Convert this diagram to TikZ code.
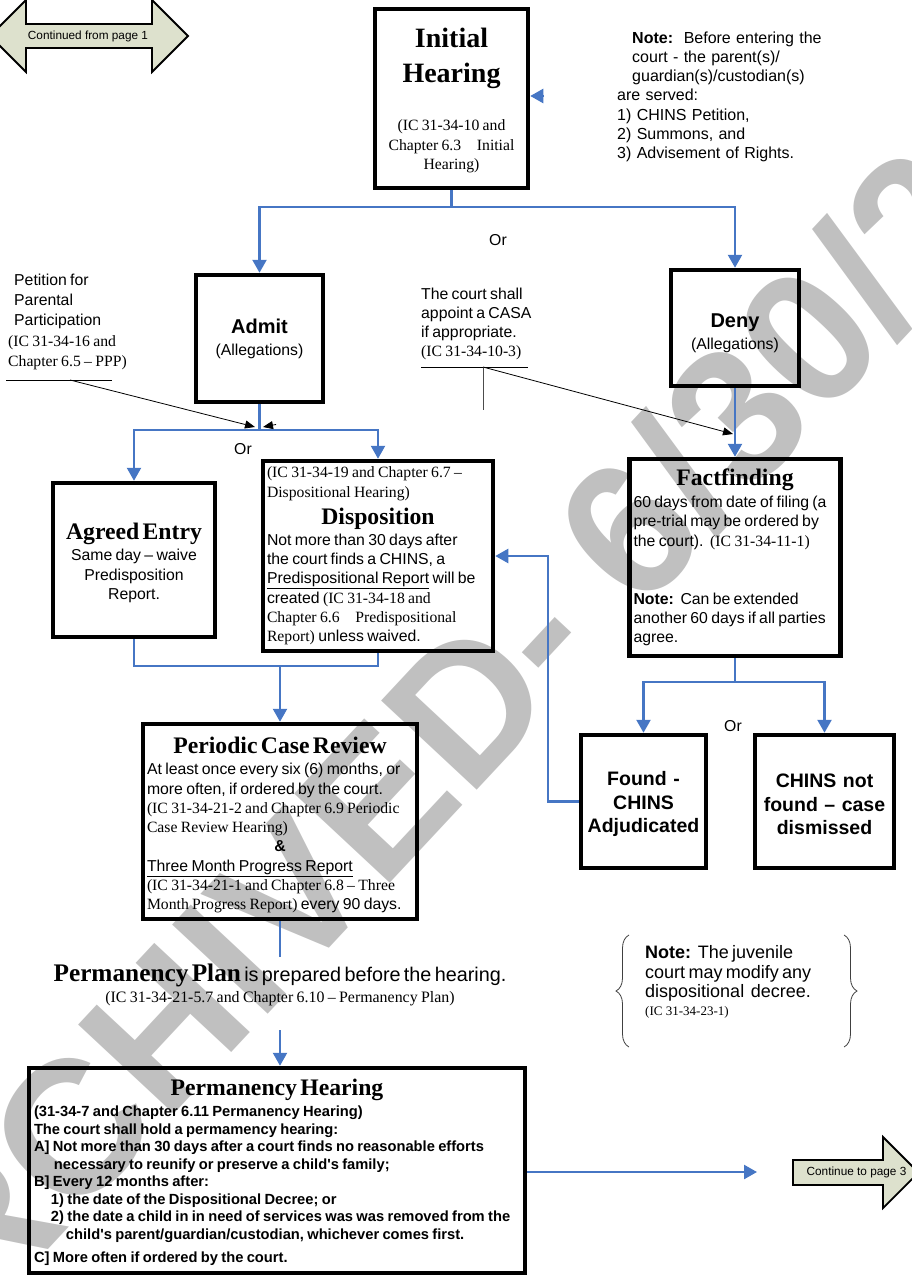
\documentclass[tikz,border=0pt]{standalone}
\usepackage{fontspec}
\setmainfont{Liberation Serif}
\newfontfamily\arial{Liberation Sans}
\usetikzlibrary{arrows.meta,decorations.pathreplacing}
\definecolor{flowblue}{RGB}{70,118,196}
\definecolor{pagegreen}{RGB}{221,225,205}
\definecolor{markgray}{RGB}{192,192,192}
\newcommand\artxt{\arial\fontsize{15.8}{19.3}\selectfont}
\newcommand\tmtxt{\rmfamily\fontsize{15.7}{19.3}\selectfont}
\newcommand\titletxt{\rmfamily\bfseries\fontsize{23.7}{26}\selectfont}

\begin{document}
\begin{tikzpicture}[x=1pt,y=-1pt,
  box/.style={draw,line width=4.5pt,inner sep=0pt},
  txt/.style={inner sep=0pt,align=left},
  flow/.style={flowblue,line width=2.4pt,-{Triangle[width=14pt,length=13pt]}},
  flowline/.style={flowblue,line width=2.4pt},
  notearrow/.style={line width=0.8pt,-{Triangle[width=8pt,length=10pt]}},
  pagearrow/.style={draw,line width=1.8pt,fill=pagegreen,line join=miter}]
\useasboundingbox (0,0) rectangle (912,1276);

\begin{scope}
\clip (0,0) rectangle (912,1276);
\node[markgray,inner sep=0pt,rotate=47,anchor=base west,font=\arial\bfseries\fontsize{190}{190}\selectfont] (mark) at (-115,1425) {ARCHIVED- 6/30/2011};
\end{scope}

\draw[pagearrow] (-10,36) -- (26,0) -- (26,24) -- (152,24) -- (152,0) -- (188,36) -- (152,72) -- (152,48) -- (26,48) -- (26,72) -- cycle;
\node[font=\arial\fontsize{11.8}{14}\selectfont] (from1) at (88,36) {Continued from page 1};
\draw[pagearrow] (793,1160) -- (883,1160) -- (883,1137) -- (918.5,1172.5) -- (883,1208) -- (883,1185) -- (793,1185) -- cycle;
\node[font=\arial\fontsize{11.8}{14}\selectfont] (to3) at (856.5,1172.5) {Continue to page 3};

\node[box,minimum width=153pt,minimum height=179pt,text width=140pt,align=center] (initial) at (451.5,98.5) {%
{\bfseries\fontsize{28}{35}\selectfont\rule{0pt}{23pt}Initial\\Hearing\par}\vspace{29.5pt}%
{\tmtxt (IC 31-34-10 and\\Chapter 6.3\quad Initial\\Hearing)\par}};

\node[txt,anchor=north west,text width=220pt,font=\arial\fontsize{16}{19.2}\selectfont] (note1) at (617,31.5) {%
\hspace*{15pt}\textbf{Note:}\ \ Before entering the\\
\hspace*{15pt}court - the parent(s)/\\
\hspace*{15pt}guardian(s)/custodian(s)\\
are served:\\
1) CHINS Petition,\\
2) Summons, and\\
3) Advisement of Rights.};

\node[box,minimum width=127pt,minimum height=127pt,text width=120pt,align=center] (admit) at (259.5,338.5) {%
{\arial\bfseries\fontsize{20}{24}\selectfont Admit\par}{\arial\fontsize{15.8}{22}\selectfont (Allegations)\par}};
\node[box,minimum width=128pt,minimum height=116pt,text width=120pt,align=center] (deny) at (735,328) {%
{\arial\bfseries\fontsize{20}{24}\selectfont\rule{0pt}{24.5pt}Deny\par}{\arial\fontsize{15.8}{22}\selectfont (Allegations)\par}};

\node[font=\artxt] (or1) at (498,240) {Or};
\node[font=\artxt] (or2) at (243,449) {Or};
\node[font=\artxt] (or3) at (733,726) {Or};

\node[txt,anchor=north west,text width=140pt] (petition) at (8,273.5) {%
{\arial\fontsize{15.8}{20.4}\selectfont\hspace*{6pt}Petition for\\\hspace*{6pt}Parental\\\hspace*{6pt}Participation\\{\tmtxt (IC 31-34-16 and}\\{\tmtxt Chapter 6.5 – PPP)}\par}};
\node[txt,anchor=north west,text width=130pt] (casa) at (421,287.5) {%
{\arial\fontsize{15.8}{19}\selectfont The court shall\\appoint a CASA\\if appropriate.\\{\tmtxt (IC 31-34-10-3)}\par}};

\node[box,minimum width=162pt,minimum height=154pt,text width=155pt,align=center] (agreed) at (134,560) {%
{\titletxt\rule{0pt}{22pt}Agreed Entry\par}\vspace{2.2pt}%
{\artxt Same day – waive\\Predisposition\\Report.\par}};

\node[box,minimum width=230pt,minimum height=190pt,text width=222pt,txt] (disposition) at (378,556) {%
{\tmtxt (IC 31-34-19 and Chapter 6.7 –\\Dispositional Hearing)\par}%
{\centering\rmfamily\bfseries\fontsize{23.7}{27}\selectfont Disposition\par}\vspace{1.7pt}%
{\artxt Not more than 30 days after\\the court finds a CHINS, a\\\underline{Predispositional Report} will be\\created {\tmtxt (IC 31-34-18 and}\\{\tmtxt Chapter 6.6\quad Predispositional}\\{\tmtxt Report)} unless waived.\par}};

\node[box,minimum width=211pt,minimum height=197pt,text width=203pt,txt] (factfinding) at (735,557.5) {%
{\centering\titletxt Factfinding\par}\vspace{2.7pt}%
{\artxt 60 days from date of filing (a\\pre-trial may be ordered by\\the court).\ \ {\tmtxt (IC 31-34-11-1)}\\[38.6pt]\textbf{Note:}\ \ Can be extended\\another 60 days if all parties\\agree.\par}};

\node[box,minimum width=125pt,minimum height=133pt,text width=120pt,align=center,font=\arial\bfseries\fontsize{19.5}{23.5}\selectfont] (found) at (643.5,801.5) {\rule{0pt}{20pt}Found -\\CHINS\\Adjudicated};
\node[box,minimum width=139pt,minimum height=133pt,text width=132pt,align=center,font=\arial\bfseries\fontsize{19.5}{23.5}\selectfont] (notfound) at (824.5,801.5) {\rule{0pt}{20pt}CHINS not\\found – case\\dismissed};

\node[box,minimum width=274pt,minimum height=195pt,text width=266pt,txt] (periodic) at (280,821.5) {%
{\centering\titletxt\rule{0pt}{24pt}Periodic Case Review\par}\vspace{1.7pt}%
{\artxt At least once every six (6) months, or\\more often, if ordered by the court.\\{\tmtxt (IC 31-34-21-2 and Chapter 6.9 Periodic}\\{\tmtxt Case Review Hearing)}\par}%
{\centering\artxt\bfseries \&\par}%
{\artxt\underline{Three Month Progress Report}\\{\tmtxt (IC 31-34-21-1 and Chapter 6.8 – Three}\\{\tmtxt Month Progress Report)} every 90 days.\par}};

\node[txt,align=center,text width=480pt] (plan) at (280,985) {%
{\bfseries\fontsize{25.3}{28}\selectfont Permanency Plan} {\arial\fontsize{19.8}{28}\selectfont is prepared before the hearing.}\par
{\fontsize{15.9}{21}\selectfont (IC 31-34-21-5.7 and Chapter 6.10 – Permanency Plan)\par}};

\node[txt,anchor=north west,text width=200pt] (note2) at (645,945.5) {%
{\arial\fontsize{18}{19.3}\selectfont\textbf{Note:}\ \ The juvenile\\court may modify any\\dispositional\ \ decree.\par}%
{\rmfamily\fontsize{13}{18}\selectfont (IC 31-34-23-1)\par}};
\draw[decorate,decoration={brace,amplitude=13pt},line width=0.8pt,black!75] (629,1047) -- (629,935);
\draw[decorate,decoration={brace,amplitude=13pt},line width=0.8pt,black!75] (844,935) -- (844,1047);

\node[box,minimum width=496pt,minimum height=205pt,text width=486pt,txt] (hearing) at (277,1170.5) {%
{\centering\titletxt\rule{0pt}{20pt}Permanency Hearing\par}\vspace{3.5pt}%
{\arial\bfseries\fontsize{14.7}{17.45}\selectfont (31-34-7 and Chapter 6.11 Permanency Hearing)\\
The court shall hold a permamency hearing:\\
A] Not more than 30 days after a court finds no reasonable efforts\\
\hspace*{20pt}necessary to reunify or preserve a child's family;\\
B] Every 12 months after:\\
\hspace*{17pt}1) the date of the Dispositional Decree; or\\
\hspace*{17pt}2) the date a child in in need of services was was removed from the\\
\hspace*{32pt}child's parent/guardian/custodian, whichever comes first.\\[5.5pt]
C] More often if ordered by the court.\par}};

\coordinate (n1) at (544,96);
\draw[flow] (n1) -- (initial.east |- n1);
\coordinate (s1) at (451.5,207);
\draw[flowline] (initial) -- (s1);
\draw[flow] (s1) -| (admit);
\draw[flow] (s1) -| (deny);
\coordinate (s2) at (259.5,430);
\draw[flowline] (admit) -- (s2);
\draw[flow] (s2) -| (agreed);
\draw[flow] (s2) -| (disposition);
\draw[flow] (deny) -- (factfinding);
\coordinate (s3) at (735,682);
\draw[flowline] (factfinding) -- (s3);
\draw[flow] (s3) -| (found);
\draw[flow] (s3) -| (notfound);
\draw[flow] (found.west) -- ++(-31,0) |- (disposition.east);
\coordinate (s4) at (280,666);
\draw[flowline] (agreed) |- (s4) -| (disposition);
\draw[flow] (s4) -- (periodic);
\coordinate (p1) at (280,957);
\draw[flowline] (periodic) -- (p1);
\coordinate (p2) at (280,1030);
\draw[flow] (p2) -- (p2 |- hearing.north);
\coordinate (c3) at (757,1172);
\draw[flow] (hearing.east |- c3) -- (c3);

\draw[line width=0.8pt] (6,380) -- (112,380);
\coordinate (pa) at (70,380);
\coordinate (pb) at (255,427);
\draw[notearrow] (pa) -- (pb);
\coordinate (pc) at (276,424.5);
\coordinate (pd) at (263,427);
\draw[notearrow] (pc) -- (pd);
\draw[line width=0.8pt] (421,367) -- (528,367);
\coordinate (ca) at (483,367);
\coordinate (cb) at (733,434);
\draw[black!70,line width=0.8pt] (ca) -- (483,410);
\draw[notearrow] (ca) -- (cb);
\end{tikzpicture}
\end{document}
